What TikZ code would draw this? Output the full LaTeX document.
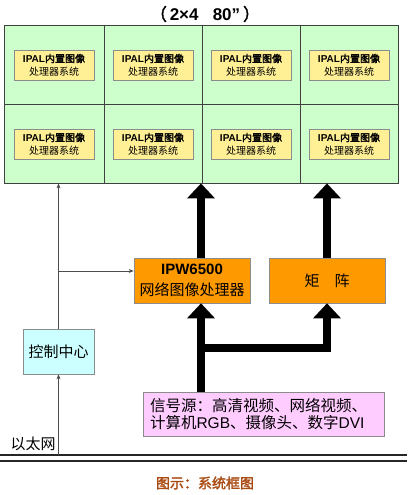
\documentclass[tikz,border=0pt]{standalone}
\usepackage{fontspec}
\setmainfont{Liberation Sans}
\newfontfamily\cjk{Noto Sans CJK SC}[AutoFakeBold=2]
\usetikzlibrary{arrows.meta}
\definecolor{scrgreen}{RGB}{204,255,204}
\definecolor{yel}{RGB}{255,240,150}
\definecolor{orng}{RGB}{255,153,0}
\definecolor{cyanbox}{RGB}{204,255,255}
\definecolor{pinkbox}{RGB}{255,204,255}
\definecolor{capcol}{RGB}{170,75,20}
\begin{document}
\begin{tikzpicture}[x=1pt,y=-1pt,
  box/.style={draw=black!45, line width=0.6pt, inner sep=0pt, align=center},
  ybox/.style={box, fill=yel, minimum width=80pt, minimum height=30pt, font=\fontsize{10}{13}\selectfont},
  obox/.style={box, fill=orng, minimum width=116pt, minimum height=45pt, font=\fontsize{15}{21}\selectfont},
  thinarrow/.style={draw=black!70, line width=0.7pt, -{Stealth[length=5pt,width=4pt]}},
  thickarrow/.style={draw=black, line width=8pt, miter limit=4, line join=miter, -{Triangle[length=15pt,width=27pt]}},
  gridline/.style={draw=black!75, line width=0.8pt}]
\useasboundingbox (0,0) rectangle (407,495);

% title
\node[font=\fontsize{17}{20}\selectfont\bfseries] (title) at (205,14) {{\cjk （}\,2×4\ \ \ 80”\,{\cjk ）}};

% screen wall
\node[fill=scrgreen, gridline, minimum width=394pt, minimum height=158pt, inner sep=0pt] (screen) at (201,104) {};
\draw[gridline] (104,25) -- (104,183);
\draw[gridline] (202,25) -- (202,183);
\draw[gridline] (300,25) -- (300,183);
\draw[gridline] (4,104) -- (398,104);

\foreach \x/\c in {54/1,153/2,251/3,349/4}{
  \foreach \y/\r in {65/1,144/2}{
    \node[ybox] (y\r\c) at (\x,\y) {{\bfseries IPAL{\cjk 内置图像}}\\{\cjk 处理器系统}};
  }
}

% processors
\node[obox] (ipw) at (192,280.5) {{\bfseries IPW6500}\\{\cjk 网络图像处理器}};
\node[obox] (mat) at (327,280.5) {{\cjk 矩\quad 阵}};

% control center
\node[box, fill=cyanbox, minimum width=71pt, minimum height=45pt, font=\fontsize{15}{18}\selectfont] (ctrl) at (58.5,351.5) {{\cjk 控制中心}};

% signal source
\node[box, fill=pinkbox, minimum width=241pt, minimum height=44pt, align=left, text width=227pt, font=\fontsize{15.5}{17}\selectfont] (src) at (263.5,414)
  {{\cjk 信号源：高清视频、网络视频、}\\{\cjk 计算机}RGB{\cjk 、摄像头、数字}DVI};

% ethernet
\coordinate (eL1) at (0,455);
\coordinate (eR1) at (407,455);
\coordinate (eL2) at (0,461);
\coordinate (eR2) at (407,461);
\draw[black!85, line width=1.3pt] (eL1) -- (eR1);
\draw[black!85, line width=1.6pt] (eL2) -- (eR2);
\node[anchor=west, font=\fontsize{15}{18}\selectfont] (eth) at (7,444) {{\cjk 以太网}};

% thin connectors
\draw[thinarrow] (ctrl.south |- eL1) -- (ctrl.south);
\draw[thinarrow] (ctrl.north) -- (ctrl.north |- screen.south);
\coordinate (br) at (59,271);
\draw[thinarrow] (br) -- (br -| ipw.west);

% thick connectors
\coordinate (a1) at (201,0);
\coordinate (j) at (201,348);
\draw[thickarrow] (ipw.north -| a1) -- (screen.south -| a1);
\draw[thickarrow] (mat.north) -- (mat.north |- screen.south);
\draw[thickarrow] (src.north -| a1) -- (ipw.south -| a1);
\draw[thickarrow] (j) -| (mat.south);

% caption
\node[font=\fontsize{14}{16}\selectfont\bfseries, text=capcol] (cap) at (205,483) {{\cjk 图示：系统框图}};
\end{tikzpicture}
\end{document}
